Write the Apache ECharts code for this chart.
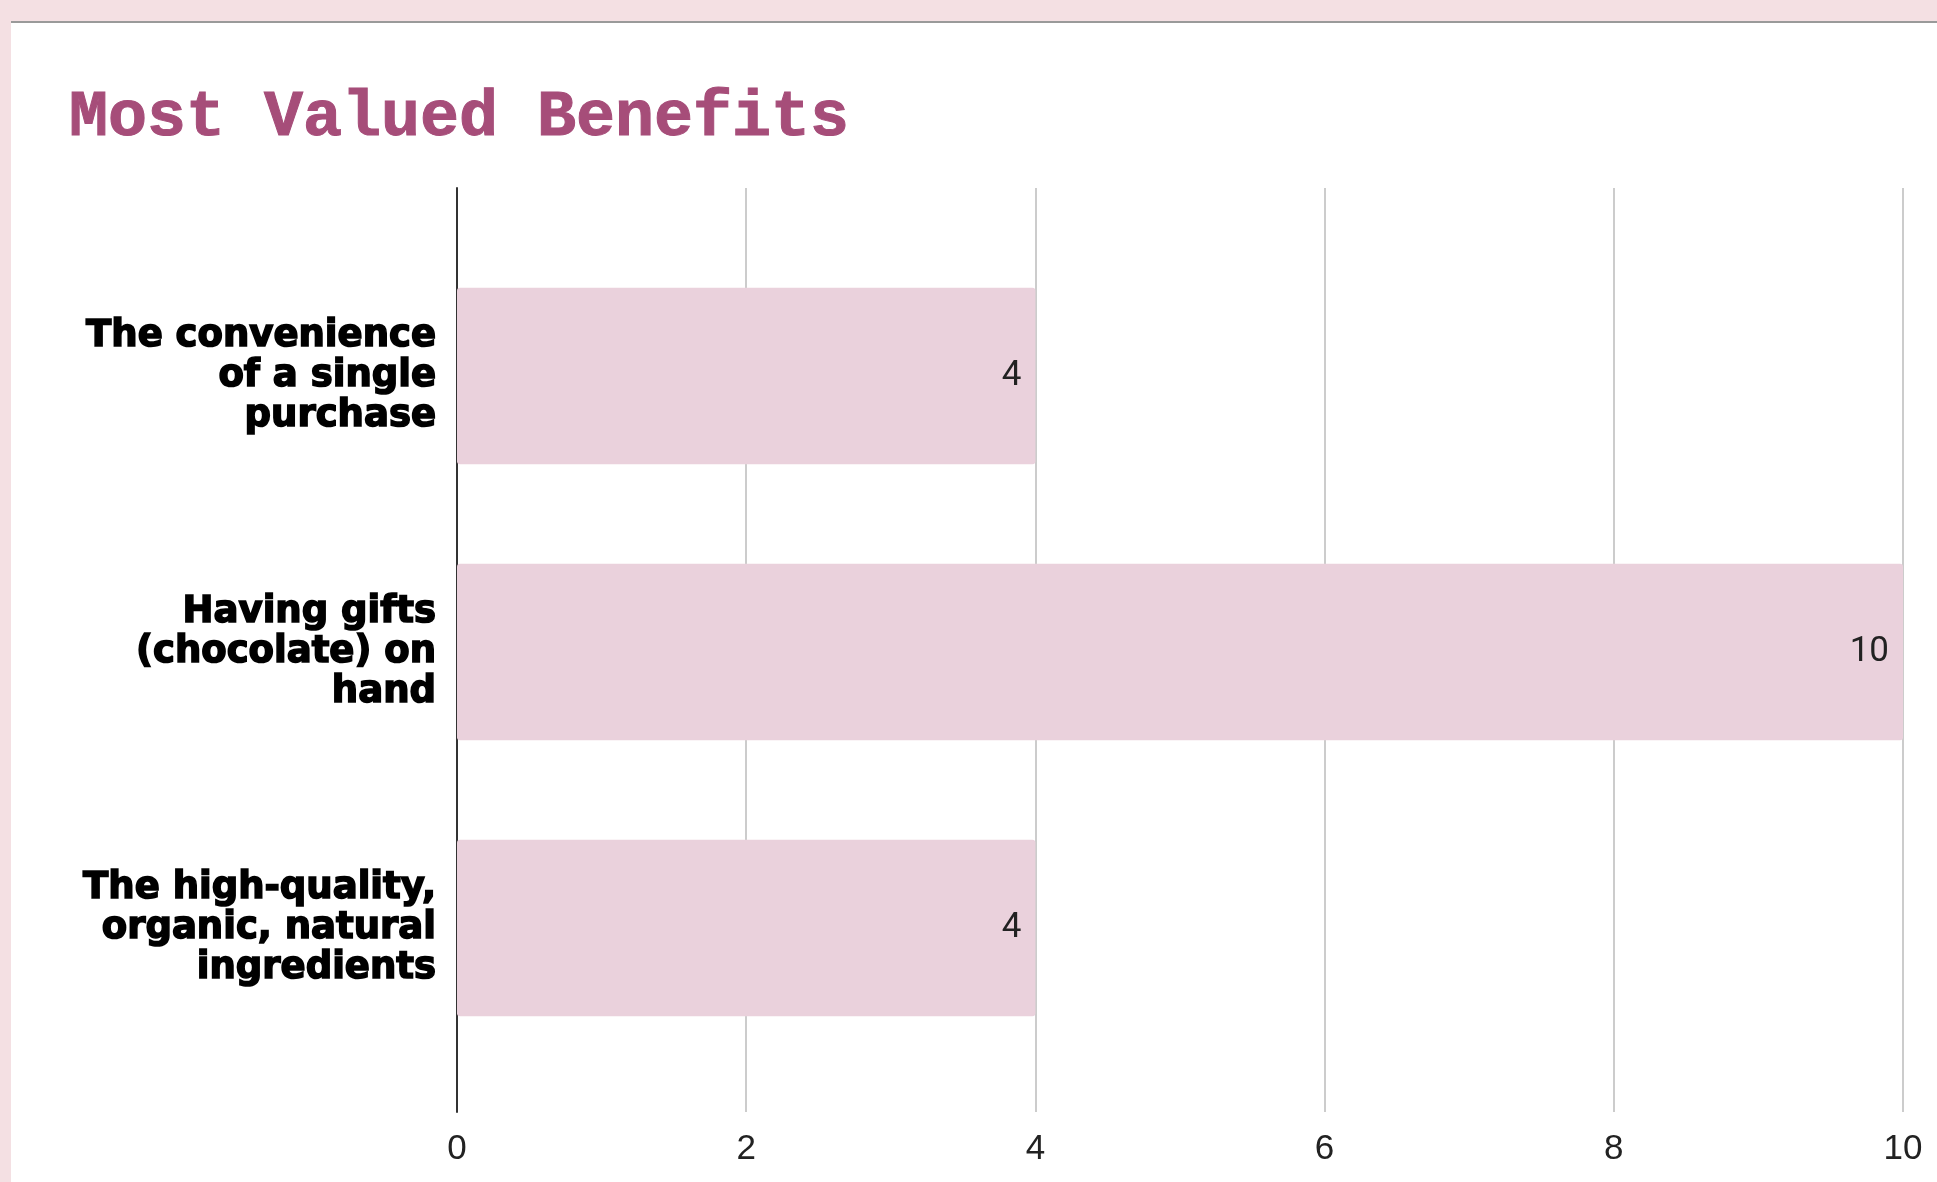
<!DOCTYPE html>
<html>
<head>
<meta charset="utf-8">
<script src="https://cdn.jsdelivr.net/npm/echarts@6/dist/echarts.min.js"></script>
<style>
  html, body { margin:0; padding:0; width:1937px; height:1182px; overflow:hidden; background:#f4e0e3; }
  #card { position:absolute; left:11px; top:21px; width:1926px; height:1161px; background:#ffffff; border-top:2px solid #9a9a9a; box-sizing:border-box; }
  #chart { width:1926px; height:1159px; }
</style>
</head>
<body>
<div id="card"><div id="chart"></div></div>
<script>
const title = 'Most Valued Benefits';
const categories = [
  'The convenience\nof a single\npurchase',
  'Having gifts\n(chocolate) on\nhand',
  'The high-quality,\norganic, natural\ningredients'
];
const values = [4, 10, 4];
const axisMin = 0;
const axisMax = 10;
const axisInterval = 2;

const chart = echarts.init(document.getElementById('chart'));
chart.setOption({
  animation: false,
  title: {
    text: title,
    left: 53,
    top: 58,
    textStyle: { fontFamily: 'Liberation Mono', fontWeight: 'bold', fontSize: 65, color: '#a64d79',
      textBorderColor: '#a64d79', textBorderWidth: 1 }
  },
  grid: [
    { left: 446, right: 34, top: 165, bottom: 70 },
    { left: 446, right: 34, top: 215, bottom: 116 }
  ],
  xAxis: [
    {
      gridIndex: 0, type: 'value', min: axisMin, max: axisMax, interval: axisInterval,
      axisLine: { show: false }, axisTick: { show: false },
      splitLine: { show: true, lineStyle: { color: '#cccccc', width: 2 } },
      axisLabel: { fontFamily: 'Liberation Sans', fontSize: 35, color: '#222222', margin: 20 }
    },
    {
      gridIndex: 1, type: 'value', min: axisMin, max: axisMax, interval: axisInterval,
      show: false
    }
  ],
  yAxis: [
    {
      gridIndex: 0, type: 'value', min: 0, max: 1,
      axisLine: { show: true, lineStyle: { color: '#333333', width: 2 } },
      axisTick: { show: false }, axisLabel: { show: false }, splitLine: { show: false }
    },
    {
      gridIndex: 1, type: 'category', data: categories, inverse: true,
      axisLine: { show: false }, axisTick: { show: false }, splitLine: { show: false },
      axisLabel: {
        fontFamily: 'DejaVu Sans', fontWeight: 'bold', fontSize: 37, lineHeight: 40,
        color: '#000000', margin: 21, align: 'right',
        textBorderColor: '#000000', textBorderWidth: 1.6
      }
    }
  ],
  series: [
    {
      type: 'bar', xAxisIndex: 1, yAxisIndex: 1, data: values,
      barCategoryGap: '36%',
      itemStyle: { color: '#ead1dc', borderRadius: 3 },
      label: {
        show: true, position: 'insideRight', distance: 14,
        fontFamily: 'Roboto', fontSize: 35, color: '#222222'
      }
    }
  ]
});
</script>
</body>
</html>
